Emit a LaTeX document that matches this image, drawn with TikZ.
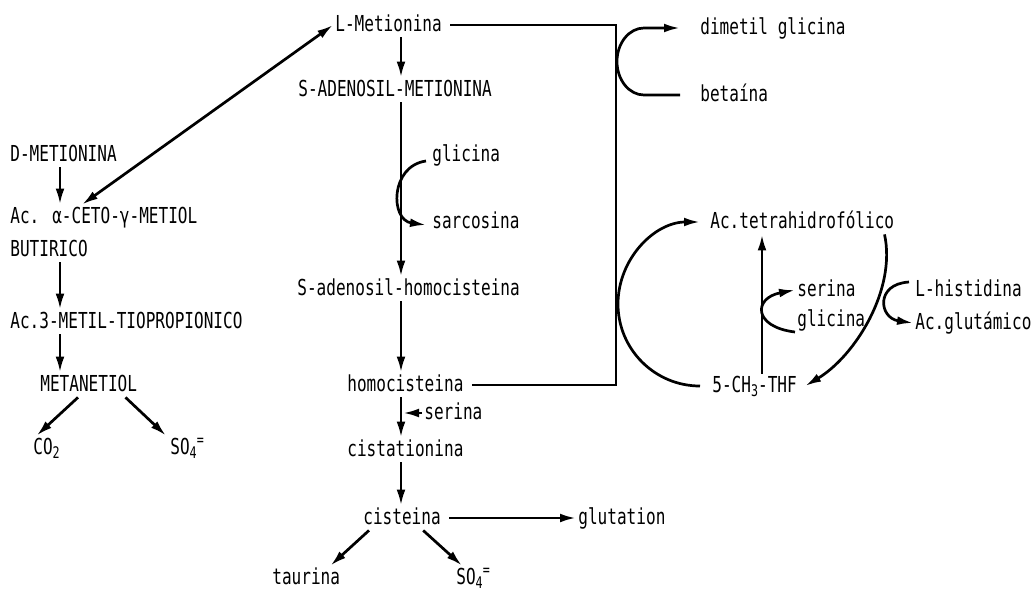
\documentclass[tikz,border=0pt]{standalone}
\usepackage{fontspec}
\usepackage{tikz}
\usetikzlibrary{arrows.meta}

\newfontfamily\dotfont[FakeStretch=0.73]{DejaVu Sans Mono}
\newcommand{\lowidx}[1]{\raisebox{-0.4ex}{\fontsize{8}{8}\selectfont #1}}
\newcommand{\highidx}[1]{\raisebox{0.7ex}{\fontsize{8}{8}\selectfont #1}}

\begin{document}
\begin{tikzpicture}[x=0.5pt, y=-0.5pt,
    met/.style={anchor=west, inner sep=1pt, text height=8pt, text depth=2pt,
        font=\dotfont\fontsize{11}{13}\selectfont},
    link/.style={line width=1.35pt},
    arr/.style={link, -{Latex[length=8pt,width=4.4pt]}},
    arrboth/.style={link, {Latex[length=8pt,width=4.4pt]}-{Latex[length=8pt,width=4.4pt]}}]
        \useasboundingbox (0,0) rectangle (1033,590);

        % guide columns
        \coordinate (lcol) at (60,0);
        \coordinate (spine) at (401,0);
        \coordinate (rail) at (616,0);
        \coordinate (axis) at (762,0);

        % D-metionina branch
        \node[met] (dmet) at (8,155) {D-METIONINA};
        \node[met] (ceto) at (8,217) {Ac. α-CETO-γ-METIOL};
        \node[met] (buti) at (8,250) {BUTIRICO};
        \node[met] (mtp) at (8,322) {Ac.3-METIL-TIOPROPIONICO};
        \node[met] (mtiol) at (38,385) {METANETIOL};
        \node[met] (co2) at (31,448) {CO\lowidx{2}};
        \node[met] (so4a) at (168,448) {SO\lowidx{4}\highidx{=}};

        % L-metionina down to cisteina
        \node[met] (lmet) at (333,25) {L-Metionina};
        \node[met] (sam) at (296,90) {S-ADENOSIL-METIONINA};
        \node[met] (gly1) at (430,155) {glicina};
        \node[met] (sarc) at (430,222) {sarcosina};
        \node[met] (sah) at (295,289) {S-adenosil-homocisteina};
        \node[met] (hcy) at (345,385) {homocisteina};
        \node[met] (ser1) at (422,413) {serina};
        \node[met] (cysta) at (345,450) {cistationina};
        \node[met] (cys) at (361,518) {cisteina};
        \node[met] (gsh) at (576,518) {glutation};
        \node[met] (taur) at (270,578) {taurina};
        \node[met] (so4b) at (454,578) {SO\lowidx{4}\highidx{=}};

        % remetilacion
        \node[met] (dmg) at (698,28) {dimetil glicina};
        \node[met] (bet) at (698,95) {betaína};
        \node[met] (thf) at (708,222) {Ac.tetrahidrofólico};
        \node[met] (ser2) at (795,290) {serina};
        \node[met] (gly2) at (795,320) {glicina};
        \node[met] (his) at (913,290) {L-histidina};
        \node[met] (glu) at (913,323) {Ac.glutámico};
        \node[met] (mthf) at (710,386) {5-CH\lowidx{3}-THF};

        \draw[arr] (dmet.south -| lcol) -- (ceto.north -| lcol);
        \draw[arr] (buti.south -| lcol) -- (mtp.north -| lcol);
        \draw[arr] (mtp.south -| lcol) -- (mtiol.north -| lcol);
        \draw[arr] ([xshift=20pt]mtiol.south west) -- ([xshift=-5pt]co2.north);
        \draw[arr] ([xshift=-7pt]mtiol.south east) -- ([xshift=-1pt]so4a.north west);
        \draw[arrboth] ([xshift=37pt]ceto.north west) -- (lmet.west);

        \draw[arr] (lmet.south -| spine) -- (sam.north -| spine);
        \draw[arr] (sam.south -| spine) -- (sah.north -| spine);
        \draw[arr] ([xshift=-2pt,yshift=-3pt]gly1.west) .. controls +(-36,5) and +(-36,-5) .. ([xshift=-2pt,yshift=-1.5pt]sarc.west);
        \draw[arr] (sah.south -| spine) -- (hcy.north -| spine);
        \draw[arr] (hcy.south -| spine) -- (cysta.north -| spine);
        \draw[arr, shorten >=1pt] (ser1.west) -- (ser1.west -| spine);
        \draw[arr] (cysta.south -| spine) -- (cys.north -| spine);
        \draw[arr] ([xshift=3pt]cys.east) -- (gsh.west);
        \draw[arr] ([xshift=4pt]cys.south west) -- ([xshift=-6pt]taur.north east);
        \draw[arr] ([xshift=-10pt]cys.south east) -- ([xshift=4pt]so4b.north west);

        % homocisteina back to L-metionina
        \draw[link] ([xshift=3pt]hcy.east) -- (hcy.east -| rail) |- ([xshift=3pt]lmet.east);
        \draw[arr] ([xshift=-9pt]bet.west) -- ++(-36,0)
            arc[start angle=90, end angle=270, x radius=27, y radius=33.5] -- ([xshift=-9pt]dmg.west);

        % ciclo del folato
        \draw[arr] ([xshift=-5pt]mthf.west) arc[start angle=90, end angle=270, radius=82];
        \draw[arr] ([xshift=-6pt]thf.south east) .. controls +(12,55) and +(50,-30) .. ([xshift=3pt]mthf.east);
        \draw[arr] (mthf.north -| axis) -- (thf.south -| axis);
        \draw[arr] ([yshift=-6pt]gly2.west) .. controls +(-42,-5) and +(-42,8) .. (ser2.west);
        \draw[arr] ([xshift=-2pt,yshift=4pt]his.west) .. controls +(-34,2) and +(-34,-5) .. (glu.west);
\end{tikzpicture}
\end{document}
